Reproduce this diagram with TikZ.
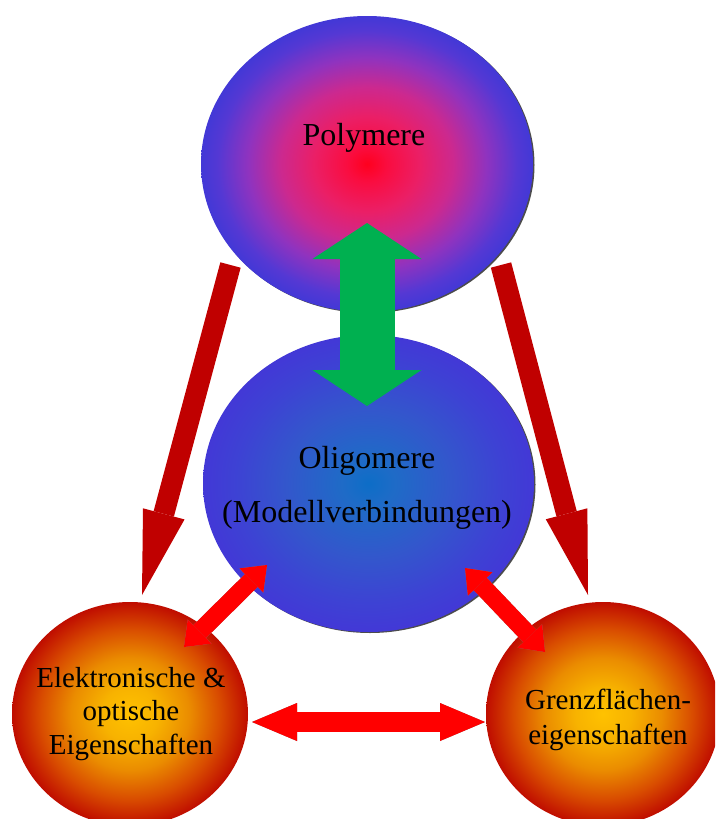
\documentclass[tikz,border=0pt]{standalone}
\usepackage{fontspec}
\setmainfont{Liberation Serif}
\usetikzlibrary{shapes.geometric,arrows.meta}

\definecolor{arrdark}{RGB}{192,0,0}
\definecolor{arrred}{RGB}{255,0,0}
\definecolor{arrgreen}{RGB}{0,176,80}
\definecolor{shadowgray}{RGB}{128,128,128}

\pgfdeclareradialshading{polyshade}{\pgfpoint{0bp}{0bp}}{%
  rgb(0bp)=(1,0,0.12); rgb(3bp)=(0.98,0.05,0.25); rgb(8bp)=(0.92,0.12,0.4);
  rgb(13bp)=(0.8,0.16,0.56); rgb(18bp)=(0.56,0.2,0.75); rgb(22.5bp)=(0.33,0.22,0.83);
  rgb(25bp)=(0.26,0.22,0.84); rgb(50bp)=(0.26,0.22,0.84)}
\pgfdeclareradialshading{oligoshade}{\pgfpoint{0bp}{0bp}}{%
  rgb(0bp)=(0.05,0.43,0.78); rgb(4bp)=(0.12,0.42,0.78); rgb(12.5bp)=(0.2,0.34,0.8);
  rgb(20bp)=(0.24,0.26,0.83); rgb(25bp)=(0.26,0.22,0.84); rgb(50bp)=(0.26,0.22,0.84)}
\pgfdeclareradialshading{propshade}{\pgfpoint{0bp}{0bp}}{%
  rgb(0bp)=(1,0.76,0); rgb(6bp)=(0.97,0.7,0); rgb(12.5bp)=(0.92,0.55,0);
  rgb(19bp)=(0.85,0.3,0); rgb(25bp)=(0.75,0.05,0); rgb(50bp)=(0.75,0.05,0)}

\begin{document}
\begin{tikzpicture}[x=1pt,y=-1pt,
ball/.style={ellipse,inner sep=0pt,shade},
ballshadow/.style={ellipse,inner sep=0pt,fill=black!70},
lbl/.style={inner sep=0pt,align=center,font=\fontsize{32}{54}\selectfont},
smalllbl/.style={inner sep=0pt,align=center},
bigarrow/.style={line width=21pt,draw=arrdark,
    arrows={-Triangle[length=84pt,width=43pt,line width=0pt]}},
twinarrow/.style={line width=18pt,draw=arrred,
    arrows={Triangle[length=22pt,width=34pt,line width=0pt]-Triangle[length=22pt,width=34pt,line width=0pt]}},
longtwin/.style={line width=20pt,draw=arrred,
    arrows={Triangle[length=45pt,width=38pt,line width=0pt]-Triangle[length=45pt,width=38pt,line width=0pt]}},
grayed/.style={draw=shadowgray,shift={(2,3)}}]
\clip (0,0) rectangle (715,819);

\node (polyshadow) [ballshadow,minimum width=332pt,minimum height=296pt] at (368.5,165) {};
\node (poly) [ball,shading=polyshade,minimum width=332pt,minimum height=296pt] at (367,164) {};
\node (oligoshadow) [ballshadow,minimum width=331pt,minimum height=297pt] at (370,484.5) {};
\node (oligo) [ball,shading=oligoshade,minimum width=331pt,minimum height=297pt] at (368.5,483.5) {};
\node (elek) [ball,shading=propshade,minimum width=236pt,minimum height=224pt] at (130,714) {};
\node (grenz) [ball,shading=propshade,minimum width=234pt,minimum height=224pt] at (603,714) {};

\node (polytext) [lbl,anchor=base] at (364,145) {Polymere};
\node (oligotext) [lbl] at (367,487.4) {Oligomere\\(Modellverbindungen)};
\node (elektext) [smalllbl,font=\fontsize{29}{33.5}\selectfont] at (131,713.7)
    {Elektronische \&\\optische\\Eigenschaften};
\node (grenztext) [smalllbl,font=\fontsize{29}{35}\selectfont] at (608,719.7)
    {Grenzflächen-\\eigenschaften};

\coordinate (poly-l) at (230.5,265);
\coordinate (poly-r) at (501,265);
\coordinate (elek-t) at (142,595);
\coordinate (grenz-t) at (588,595);
\coordinate (poly-b) at (367,223);
\coordinate (oligo-t) at (367,406);
\coordinate (oligo-l) at (267,565);
\coordinate (oligo-r) at (465,568);
\coordinate (elek-ur) at (184,647);
\coordinate (grenz-ul) at (545,652);
\coordinate (elek-r) at (252,722);
\coordinate (grenz-l) at (485,722);

\draw [line width=55pt,draw=arrgreen,
    arrows={Triangle[length=36pt,width=109pt,line width=0pt]-Triangle[length=36pt,width=109pt,line width=0pt]}]
    (poly-b) -- (oligo-t);
\draw [bigarrow] (poly-l) -- (elek-t);
\draw [bigarrow] (poly-r) -- (grenz-t);

\draw [twinarrow,grayed] (oligo-l) -- (elek-ur);
\draw [twinarrow] (oligo-l) -- (elek-ur);
\draw [twinarrow,grayed] (oligo-r) -- (grenz-ul);
\draw [twinarrow] (oligo-r) -- (grenz-ul);
\draw [longtwin,grayed] (elek-r) -- (grenz-l);
\draw [longtwin] (elek-r) -- (grenz-l);

\end{tikzpicture}
\end{document}
